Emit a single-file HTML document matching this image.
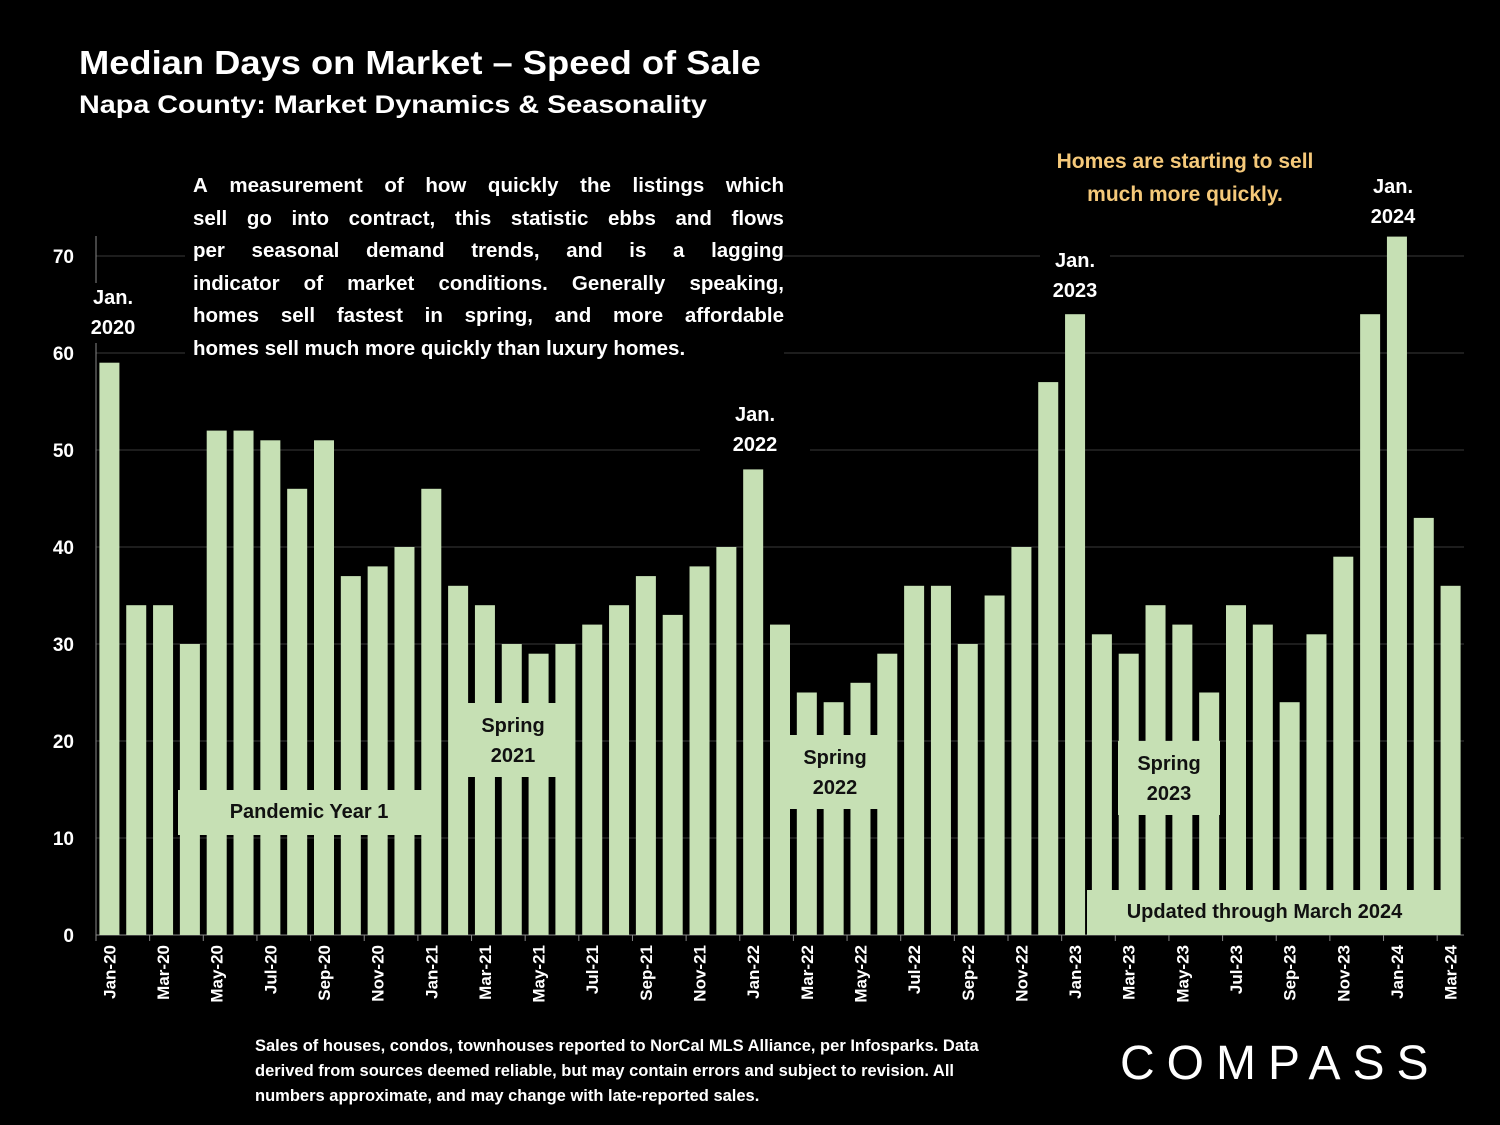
<!DOCTYPE html>
<html><head><meta charset="utf-8"><style>
body{margin:0;background:#000;width:1500px;height:1125px;overflow:hidden;font-family:"Liberation Sans",sans-serif;color:#fff}
.t{position:absolute;font-weight:bold}
.gb{position:absolute;background:#c6e0b4;color:#111;font-weight:bold;font-size:20px;text-align:center;line-height:30px}
.bb{position:absolute;background:#000;color:#fff;font-weight:bold;font-size:20px;text-align:center;line-height:30px}
.jl{text-align:justify;text-align-last:justify;white-space:nowrap;display:flex;justify-content:space-between}
</style></head><body>
<div class="t" style="left:79px;top:44px;font-size:33px;transform:scaleX(1.1);transform-origin:left">Median Days on Market – Speed of Sale</div>
<div class="t" style="left:79px;top:91px;font-size:25px;transform:scaleX(1.15);transform-origin:left">Napa County: Market Dynamics &amp; Seasonality</div>
<svg id="c" width="1500" height="1125" style="position:absolute;left:0;top:0"></svg>
<div class="bb" style="left:185px;top:170px;width:591px;padding:0 0 0 8px;text-align:left;font-size:20.5px;line-height:32.5px">
<div class="jl"><span>A</span><span>measurement</span><span>of</span><span>how</span><span>quickly</span><span>the</span><span>listings</span><span>which</span></div>
<div class="jl"><span>sell</span><span>go</span><span>into</span><span>contract,</span><span>this</span><span>statistic</span><span>ebbs</span><span>and</span><span>flows</span></div>
<div class="jl"><span>per</span><span>seasonal</span><span>demand</span><span>trends,</span><span>and</span><span>is</span><span>a</span><span>lagging</span></div>
<div class="jl"><span>indicator</span><span>of</span><span>market</span><span>conditions.</span><span>Generally</span><span>speaking,</span></div>
<div class="jl"><span>homes</span><span>sell</span><span>fastest</span><span>in</span><span>spring,</span><span>and</span><span>more</span><span>affordable</span></div>
<div>homes sell much more quickly than luxury homes.</div>
</div>
<div class="t" style="left:1020px;top:145px;width:330px;text-align:center;color:#f5c97a;font-size:21px;line-height:33px">Homes are starting to sell<br>much more quickly.</div>
<div class="bb" style="left:86px;top:283px;width:54px">Jan.<br>2020</div>
<div class="bb" style="left:700px;top:400px;width:110px">Jan.<br>2022</div>
<div class="bb" style="left:1040px;top:246px;width:70px">Jan.<br>2023</div>
<div class="bb" style="left:1360px;top:172px;width:66px">Jan.<br>2024</div>
<div class="gb" style="left:178px;top:790px;width:262px;height:45px;line-height:45px">Pandemic Year 1</div>
<div class="gb" style="left:464px;top:703px;width:98px;height:74px;padding-top:8px;box-sizing:border-box">Spring<br>2021</div>
<div class="gb" style="left:788px;top:735px;width:94px;height:74px;padding-top:8px;box-sizing:border-box">Spring<br>2022</div>
<div class="gb" style="left:1118px;top:741px;width:102px;height:74px;padding-top:8px;box-sizing:border-box">Spring<br>2023</div>
<div class="gb" style="left:1087px;top:890px;width:355px;height:45px;line-height:45px">Updated through March 2024</div>
<div class="t" style="left:255px;top:1034px;width:820px;font-size:16.5px;line-height:25px">Sales of houses, condos, townhouses reported to NorCal MLS Alliance, per Infosparks. Data<br>derived from sources deemed reliable, but may contain errors and subject to revision. All<br>numbers approximate, and may change with late-reported sales.</div>
<div class="t" style="left:1120px;top:1036px;font-size:48px;font-weight:normal;letter-spacing:12px">COMPASS</div>
<script>
const months=["Jan","Feb","Mar","Apr","May","Jun","Jul","Aug","Sep","Oct","Nov","Dec"];
const categories=[];
for(let y=20;y<=24;y++)for(let m=0;m<12;m++){if(y===24&&m>2)break;categories.push(months[m]+"-"+y);}
const values=[59,34,34,30,52,52,51,46,51,37,38,40,46,36,34,30,29,30,32,34,37,33,38,40,48,32,25,24,26,29,36,36,30,35,40,57,64,31,29,34,32,25,34,32,24,31,39,64,72,43,36];
const yTicks=[0,10,20,30,40,50,60,70];
const svg=document.getElementById('c');const NS="http://www.w3.org/2000/svg";
const L=96,R=1464,Y0=935,YS=9.7;
const step=(R-L)/categories.length;
const xf=i=>L+step*(i+0.5);const yf=v=>Y0-v*YS;
function mk(t,a){const e=document.createElementNS(NS,t);for(const k in a)e.setAttribute(k,a[k]);svg.appendChild(e);return e;}
yTicks.forEach(v=>{
 const g=mk('line',{x1:L,x2:R,y1:yf(v),y2:yf(v),stroke:v?'#3a3a3a':'#888','stroke-width':1});
 
 
 const t=mk('text',{x:74,y:yf(v)+7,'text-anchor':'end',fill:'#fff','font-size':19,'font-weight':'bold'});t.textContent=v;
 
 
});
mk('line',{x1:L,x2:L,y1:236,y2:Y0,stroke:'#888'});
values.forEach((v,i)=>{
 const b=mk('rect',{x:xf(i)-10,y:yf(v),width:20,height:v*YS,fill:'#c6e0b4'});
 
 
});
categories.forEach((c,i)=>{
 if(i%2===0){
  mk('line',{x1:L+step*i,x2:L+step*i,y1:Y0,y2:Y0+6,stroke:'#888'});
  const t=mk('text',{x:0,y:0,transform:`translate(${xf(i)+6},${Y0+10}) rotate(-90)`,'text-anchor':'end',fill:'#fff','font-size':17,'font-weight':'bold'});
  t.textContent=c;
  
  
 }
});
</script>
</body></html>
